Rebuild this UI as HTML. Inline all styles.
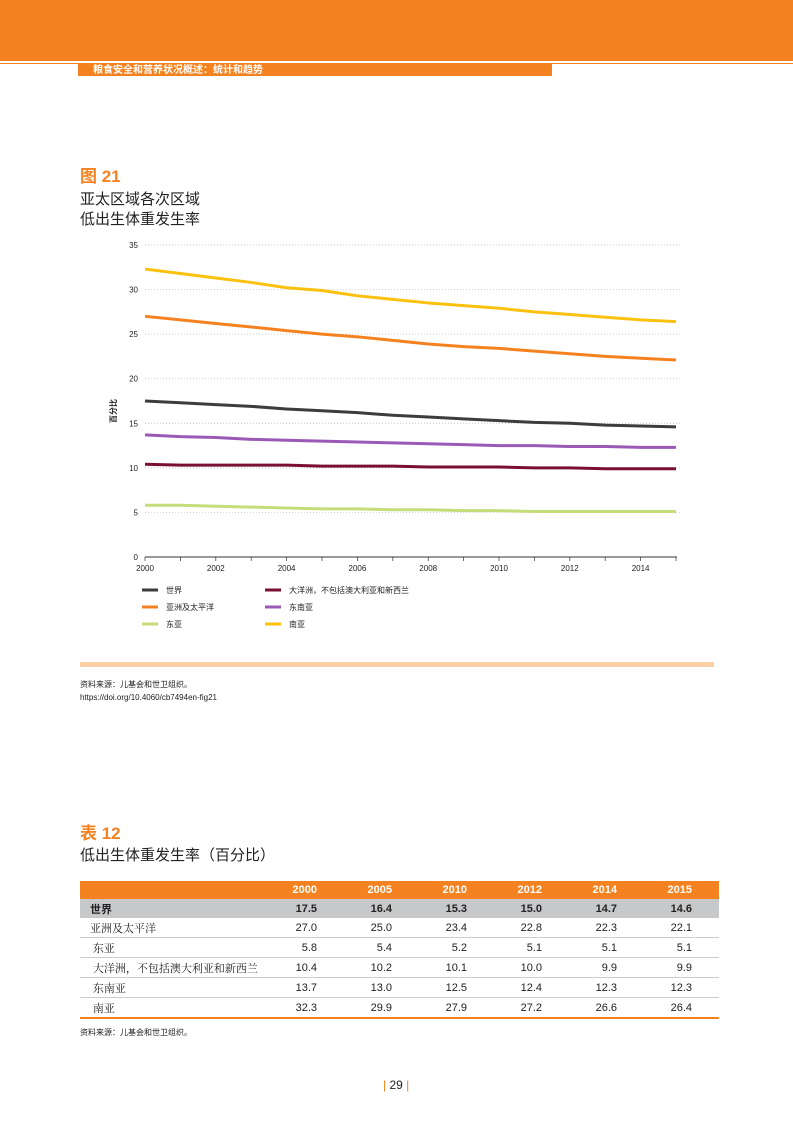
<!DOCTYPE html>
<html><head><meta charset="utf-8"><style>
body{margin:0;width:793px;height:1122px;position:relative;background:#fff;font-family:"Liberation Sans","Noto Sans CJK SC",sans-serif;overflow:hidden}
.abs{position:absolute}
table{border-collapse:collapse;position:absolute;left:80px;top:881px;width:639px;font-size:11px;table-layout:fixed}
td{height:19px;padding:0;text-align:right;color:#222;white-space:nowrap}
td:first-child{text-align:left;padding-left:10px;font-family:"Noto Serif CJK SC","Liberation Serif",serif}
td:nth-child(n+2){padding-right:27px}
tr.h td{background:#f58220;color:#fff;font-weight:bold;height:18px}
tr.w td{background:#c7c8ca;font-weight:bold}
tr.w td:first-child{font-family:"Liberation Sans","Noto Sans CJK SC",sans-serif}
tr.r td{border-bottom:1px solid #ccc}
tr.last td{border-bottom:2px solid #f58220}
</style></head><body>
<div class="abs" style="left:0;top:0;width:793px;height:61px;background:#f58220"></div>
<div class="abs" style="left:0;top:63px;width:793px;height:13px;background:#f58220"></div>
<div class="abs" style="left:0;top:64px;width:78px;height:12px;background:#fff"></div>
<div class="abs" style="left:552px;top:64px;width:241px;height:12px;background:#fff"></div>
<div class="abs" style="left:93px;top:63px;font-size:10px;font-weight:bold;color:#fff;line-height:15px">粮食安全和营养状况概述：统计和趋势</div>

<div class="abs" style="left:80px;top:166px;font-size:17px;line-height:22px;font-weight:bold;color:#f58220">图 21</div>
<div class="abs" style="left:80px;top:189px;font-size:15px;line-height:20px;color:#222;font-family:'Noto Sans CJK SC',sans-serif">亚太区域各次区域<br>低出生体重发生率</div>

<svg class="abs" style="left:0;top:0" width="793" height="700" id="chart"></svg>

<div class="abs" style="left:80px;top:662px;width:634px;height:5px;background:#fdd0a6"></div>
<div class="abs" style="left:80px;top:678px;font-size:8px;line-height:13px;color:#222">资料来源：儿基会和世卫组织。<br>https://doi.org/10.4060/cb7494en-fig21</div>

<div class="abs" style="left:80px;top:823px;font-size:17px;line-height:22px;font-weight:bold;color:#f58220">表 12</div>
<div class="abs" style="left:80px;top:845px;font-size:15px;line-height:20px;color:#222;font-family:'Noto Sans CJK SC',sans-serif">低出生体重发生率（百分比）</div>

<table>
<colgroup><col style="width:189px"><col style="width:75px"><col style="width:75px"><col style="width:75px"><col style="width:75px"><col style="width:75px"><col style="width:75px"></colgroup>
<tr class="h"><td></td><td>2000</td><td>2005</td><td>2010</td><td>2012</td><td>2014</td><td>2015</td></tr>
<tr class="w"><td>世界</td><td>17.5</td><td>16.4</td><td>15.3</td><td>15.0</td><td>14.7</td><td>14.6</td></tr>
<tr class="r"><td>亚洲及太平洋</td><td>27.0</td><td>25.0</td><td>23.4</td><td>22.8</td><td>22.3</td><td>22.1</td></tr>
<tr class="r"><td>&nbsp;东亚</td><td>5.8</td><td>5.4</td><td>5.2</td><td>5.1</td><td>5.1</td><td>5.1</td></tr>
<tr class="r"><td>&nbsp;大洋洲，不包括澳大利亚和新西兰</td><td>10.4</td><td>10.2</td><td>10.1</td><td>10.0</td><td>9.9</td><td>9.9</td></tr>
<tr class="r"><td>&nbsp;东南亚</td><td>13.7</td><td>13.0</td><td>12.5</td><td>12.4</td><td>12.3</td><td>12.3</td></tr>
<tr class="last"><td>&nbsp;南亚</td><td>32.3</td><td>29.9</td><td>27.9</td><td>27.2</td><td>26.6</td><td>26.4</td></tr>
</table>
<div class="abs" style="left:80px;top:1027px;font-size:8px;color:#222">资料来源：儿基会和世卫组织。</div>
<div class="abs" style="left:383px;top:1078px;font-size:12px;color:#222"><span style="color:#f58220">| </span>29<span style="color:#f58220"> |</span></div>

<script>
const years=[2000,2001,2002,2003,2004,2005,2006,2007,2008,2009,2010,2011,2012,2013,2014,2015];
const world=[17.5,17.3,17.1,16.9,16.6,16.4,16.2,15.9,15.7,15.5,15.3,15.1,15.0,14.8,14.7,14.6];
const asiaPacific=[27.0,26.6,26.2,25.8,25.4,25.0,24.7,24.3,23.9,23.6,23.4,23.1,22.8,22.5,22.3,22.1];
const eastAsia=[5.8,5.8,5.7,5.6,5.5,5.4,5.4,5.3,5.3,5.2,5.2,5.1,5.1,5.1,5.1,5.1];
const oceania=[10.4,10.3,10.3,10.3,10.3,10.2,10.2,10.2,10.1,10.1,10.1,10.0,10.0,9.9,9.9,9.9];
const seAsia=[13.7,13.5,13.4,13.2,13.1,13.0,12.9,12.8,12.7,12.6,12.5,12.5,12.4,12.4,12.3,12.3];
const southAsia=[32.3,31.8,31.3,30.8,30.2,29.9,29.3,28.9,28.5,28.2,27.9,27.5,27.2,26.9,26.6,26.4];
const yTicks=[0,5,10,15,20,25,30,35];
const xTicks=[2000,2002,2004,2006,2008,2010,2012,2014];
const svg=document.getElementById('chart');const NS='http://www.w3.org/2000/svg';
const X=v=>145+(v-2000)*(676-145)/15, Y=v=>557-v*(557-245)/35;
function mk(t,a){const e=document.createElementNS(NS,t);for(const k in a)e.setAttribute(k,a[k]);svg.appendChild(e);return e;}
yTicks.forEach(t=>{
 if(t>0){const g=mk('line',{x1:145,x2:680,y1:Y(t),y2:Y(t),stroke:'#bbb','stroke-width':0.7,'stroke-dasharray':'1 2'});
 
 }
 const l=mk('text',{x:138,y:Y(t)+3,'text-anchor':'end','font-size':8,fill:'#222'});l.textContent=t;
 
 
});
const ax=mk('line',{x1:145,x2:677,y1:557,y2:557,stroke:'#333','stroke-width':1});


years.forEach(yr=>{mk('line',{x1:X(yr),x2:X(yr),y1:557,y2:561,stroke:'#333','stroke-width':0.7});});
xTicks.forEach(t=>{const l=mk('text',{x:X(t),y:571,'text-anchor':'middle','font-size':8,fill:'#222'});l.textContent=t;
 
 });
const yt=mk('text',{x:0,y:0,'font-size':8,'font-weight':'bold',fill:'#222','text-anchor':'middle',transform:'translate(116,411) rotate(-90)'});yt.textContent='百分比';


const series=[['world',world,'#3d3d3d','世界'],['oceania',oceania,'#7a1030','大洋洲，不包括澳大利亚和新西兰'],['asia-pacific',asiaPacific,'#f58220','亚洲及太平洋'],['southeast-asia',seAsia,'#9b59b6','东南亚'],['east-asia',eastAsia,'#c5dc7a','东亚'],['south-asia',southAsia,'#fcc10f','南亚']];
series.forEach((s,i)=>{
 const p=mk('polyline',{points:s[1].map((v,j)=>X(years[j])+','+Y(v)).join(' '),fill:'none',stroke:s[2],'stroke-width':3,'stroke-linejoin':'round'});
 
 
 const lx=142+(i%2)*123, ly=590+Math.floor(i/2)*17;
 mk('line',{x1:lx,x2:lx+16,y1:ly,y2:ly,stroke:s[2],'stroke-width':3});
 const t=mk('text',{x:lx+24,y:ly+3,'font-size':8,fill:'#222'});t.textContent=s[3];
 
 
});
</script>
</body></html>
